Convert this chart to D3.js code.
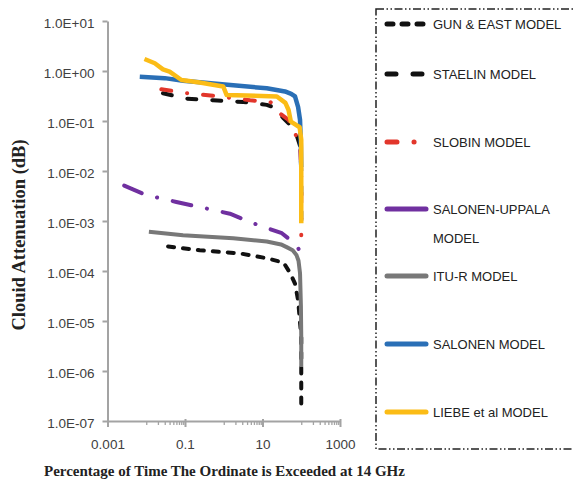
<!DOCTYPE html>
<html>
<head>
<meta charset="utf-8">
<script src="https://cdn.jsdelivr.net/npm/d3@7"></script>
<style>
  html, body { margin: 0; padding: 0; background: #fff; }
  svg { display: block; }
  .tick text { font-family: "Liberation Sans", Arial, sans-serif; font-size: 13.5px; fill: #404040; }
  .axis path, .axis line { stroke: #a3a3a3; stroke-width: 2; }
  .minor path { display: none; }
  .minor line { stroke: #a3a3a3; stroke-width: 1.3; }
  .legend text { font-family: "Liberation Sans", Arial, sans-serif; font-size: 13px; fill: #222; }
  .title { font-family: "Liberation Serif", "Times New Roman", serif; font-weight: bold; fill: #222; }
</style>
</head>
<body>
<svg id="chart" width="573" height="480"></svg>
<script>
// Cloud attenuation vs percentage of time, 14 GHz

const models = ["GUN & EAST MODEL", "STAELIN MODEL", "SLOBIN MODEL", "SALONEN-UPPALA MODEL",
  "ITU-R MODEL", "SALONEN MODEL", "LIEBE et al MODEL"];

// [percentage of time, attenuation dB]
const gunEast = [[0.0366, 0.00031], [0.24, 0.00026], [2.6, 0.000225], [12.9, 0.00018], [35, 0.000147],
  [52, 0.00009], [69, 0.000056], [83, 0.000026], [100, 0.0000049], [100, 0.00000015]];
const staelin = [[0.027, 0.36], [0.11, 0.28], [0.53, 0.26], [3.2, 0.24], [12.9, 0.21], [19, 0.19],
  [35, 0.113], [52, 0.083], [78, 0.049], [94, 0.031], [100, 0.01], [100, 0.0005]];
const slobin = [[0.0245, 0.43], [0.11, 0.36], [0.53, 0.32], [4.8, 0.26], [16, 0.24], [28.6, 0.14],
  [47, 0.105], [70, 0.057], [94, 0.026], [100, 0.01], [100, 0.00052]];
const salonenUppala = [[0.0027, 0.0051], [0.01, 0.0033], [0.06, 0.0024], [0.24, 0.0019], [1.44, 0.0014],
  [5.8, 0.0009], [14, 0.00071], [31.6, 0.00057], [76, 0.00033], [105, 0.0002]];
const ituR = [[0.0117, 0.00061], [0.089, 0.00052], [1.76, 0.00045], [12.9, 0.00039], [30, 0.00034],
  [42, 0.0003], [60, 0.00026], [75, 0.00021], [85, 0.00016], [93, 0.00009], [98, 0.00002],
  [100, 0.000005], [100, 0.0000012]];
const salonen = [[0.0068, 0.77], [0.03, 0.72], [0.089, 0.64], [1.76, 0.52], [12.9, 0.45], [38, 0.39],
  [55, 0.35], [69, 0.31], [83, 0.19], [93, 0.105], [98, 0.03], [100, 0.012]];
const liebe = [[0.009, 1.74], [0.0166, 1.43], [0.027, 1.08], [0.04, 0.97], [0.081, 0.66], [0.24, 0.59],
  [0.97, 0.49], [1.19, 0.33], [23.5, 0.31], [39, 0.23], [47, 0.166], [54, 0.097], [91, 0.075],
  [100, 0.042], [100, 0.0009]];

const xTicks = [0.001, 0.1, 10, 1000];
const yTicks = [1e1, 1e0, 1e-1, 1e-2, 1e-3, 1e-4, 1e-5, 1e-6, 1e-7];

const series = [gunEast, staelin, slobin, salonenUppala, ituR, salonen, liebe];
const colors = ["#111111", "#111111", "#e2362b", "#7030a0", "#787878", "#2a6fb6", "#fbbc16"];
const dashes = ["6,9", "9,16", "10,16,0.1,16", "19,16,0.1,16", null, null, null];
const legendDashes = ["6,9", "9,17", "10,17,0.1,30", null, null, null, null];

const svg = d3.select("#chart");
const x = d3.scaleLog().domain([0.001, 1000]).range([107.5, 340]);
const y = d3.scaleLog().domain([1e-7, 10]).range([421, 21]);

// minor x ticks (only in the unlabelled decades)
const minor = [];
[0.01, 1, 100].forEach(d => { for (let k = 1; k <= 9; k++) minor.push(d * k); });
svg.append("g").attr("class", "minor").attr("transform", "translate(0,421)")
  .call(d3.axisBottom(x).tickValues(minor).tickSize(4).tickFormat(""));

const fmtE = d => {
  const e = Math.round(Math.log10(d));
  return "1.0E" + (e < 0 ? "-" : "+") + String(Math.abs(e)).padStart(2, "0");
};

svg.append("g").attr("class", "axis").attr("transform", "translate(107.5,0)")
  .call(d3.axisLeft(y).tickValues(yTicks).tickSize(5).tickSizeOuter(0).tickPadding(8).tickFormat(fmtE))
  .selectAll(".tick text").attr("dy", "0.45em");

const xa = svg.append("g").attr("class", "axis").attr("transform", "translate(0,421)")
  .call(d3.axisBottom(x).tickValues(xTicks).tickSize(6).tickSizeOuter(0).tickPadding(12)
    .tickFormat(d => d >= 1 ? d3.format("d")(d) : String(d)));
xa.selectAll(".tick line").attr("y1", -2);

// series
const line = d3.line().x(d => x(d[0])).y(d => y(d[1]));
series.forEach((s, i) => {
  svg.append("path").datum(s)
    .attr("d", line)
    .attr("fill", "none")
    .attr("stroke", colors[i])
    .attr("stroke-width", i >= 5 ? 4.5 : 4)
    .attr("stroke-linecap", dashes[i] ? "round" : "butt")
    .attr("stroke-linejoin", "round")
    .attr("stroke-dasharray", dashes[i]);
});

// axis titles
svg.append("text").attr("class", "title")
  .attr("transform", "translate(25,235) rotate(-90)")
  .attr("text-anchor", "middle").style("font-size", "18.5px")
  .text("Clouid Attenuation (dB)");
svg.append("text").attr("class", "title")
  .attr("x", 44).attr("y", 476).style("font-size", "15px")
  .text("Percentage of Time The Ordinate is Exceeded at 14 GHz");

// legend
const lg = svg.append("g").attr("class", "legend");
lg.append("rect").attr("x", 376).attr("y", 9).attr("width", 220).attr("height", 440)
  .attr("fill", "none").attr("stroke", "#222").attr("stroke-width", 1.5)
  .attr("stroke-dasharray", "8,2.5,1.5,2.5,1.5,2.5");

const rowY = [24, 74, 142, 209, 276, 344, 412];
models.forEach((m, i) => {
  const g = lg.append("g").attr("transform", `translate(0,${rowY[i]})`);
  g.append("line").attr("x1", 387).attr("x2", i >= 3 ? 426 : 423)
    .attr("stroke", colors[i]).attr("stroke-width", 5)
    .attr("stroke-linecap", "round")
    .attr("stroke-dasharray", legendDashes[i]);
  const words = m === "SALONEN-UPPALA MODEL" ? ["SALONEN-UPPALA", "MODEL"] : [m];
  words.forEach((w, j) => {
    g.append("text").attr("x", 433).attr("y", j * 29).attr("dy", "0.36em").text(w);
  });
});
</script>
</body>
</html>
